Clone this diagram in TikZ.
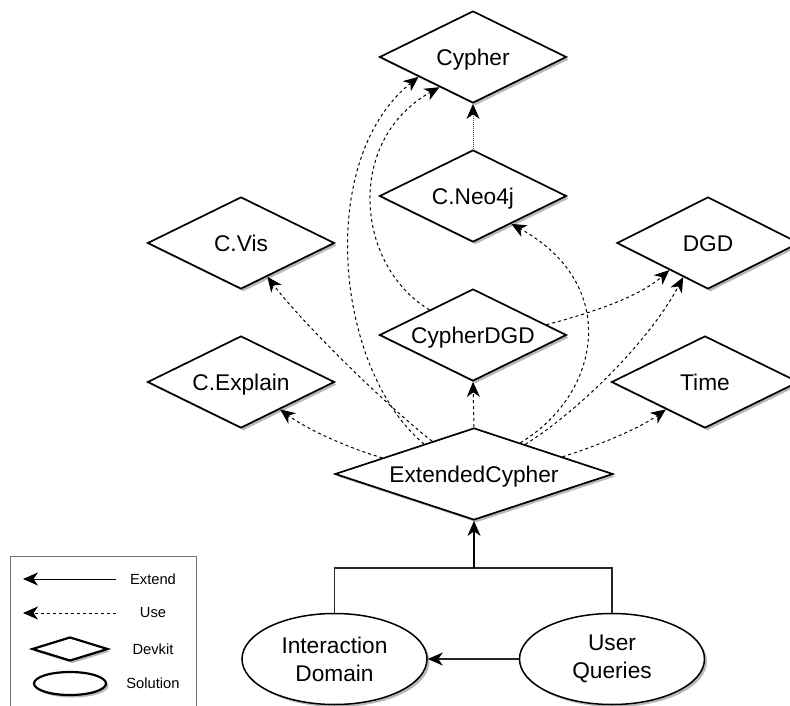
\documentclass[tikz,border=0pt]{standalone}
\usepackage{fontspec}
\setmainfont{Liberation Sans}
\usetikzlibrary{shapes.geometric,arrows.meta,shadows}

\begin{document}
\begin{tikzpicture}[x=1pt,y=-1pt,
  softshadow/.style={drop shadow={shadow xshift=2.5pt,shadow yshift=-2.5pt,opacity=0.28,fill=black}},
  kit/.style={diamond,draw=black,line width=1.7pt,fill=white,aspect=3,inner sep=0pt,
    minimum width=187pt,minimum height=92pt,
    font=\fontsize{22.7}{27}\selectfont,text height=16.5pt,text depth=0pt,softshadow},
  sol/.style={ellipse,draw=black,line width=1.5pt,fill=white,inner sep=0pt,
    minimum width=185pt,minimum height=91pt,align=center,
    font=\fontsize{22.7}{28}\selectfont,softshadow},
  tip/.style={-{Stealth[length=15pt,width=13pt,inset=4.5pt,color=black]}},
  usearrow/.style={draw=black,line width=1pt,dash pattern=on 3pt off 3pt,tip},
  extend/.style={draw=black,line width=1.5pt,tip},
  legtext/.style={font=\fontsize{14.7}{17}\selectfont,inner sep=0pt}
]
\useasboundingbox (0,0) rectangle (790,706);
\clip (0,0) rectangle (790,706);

% devkit diamonds
\node[kit] (cy) at (473,57) {Cypher};
\node[kit] (cn) at (473,196) {C.Neo4j};
\node[kit] (cv) at (241,243) {C.Vis};
\node[kit] (ce) at (241,382) {C.Explain};
\node[kit] (cd) at (473,335) {CypherDGD};
\node[kit,minimum width=182pt] (dg) at (708,243) {DGD};
\node[kit] (tm) at (705,382) {Time};
\node[kit,minimum width=278pt] (ec) at (474,474) {ExtendedCypher};

% solutions
\node[sol] (id) at (334.5,659) {Interaction\\Domain};
\node[sol] (uq) at (612,659) {User\\Queries};

% use relations
\draw[usearrow] (ec.149) .. controls (335,370) and (315,160) .. (cy.200);
\draw[usearrow] (cd.150) .. controls (355,265) and (345,140) .. (cy.222);
\draw[usearrow] (ec.142) .. controls (380,400) and (300,320) .. (cv.308);
\draw[usearrow] (ec.170) .. controls (345,447) and (305,428) .. (ce.325);
\draw[usearrow] (ec.north) -- (cd.south);
\draw[usearrow] (ec.34) .. controls (600,395) and (622,285) .. (cn.324);
\draw[usearrow] (ec.30) .. controls (580,410) and (650,340) .. (dg.234);
\draw[usearrow] (cd.8) .. controls (595,312) and (640,296) .. (dg.215);
\draw[usearrow] (ec.11) .. controls (600,445) and (640,428) .. (tm.215);
\draw[draw=black!70,line width=1pt,dash pattern=on 1pt off 1pt,tip] (cn.north) -- (cy.south);

% extend relations
\coordinate (jn) at (474,568);
\draw[black!85,line width=1.3pt] (id.north) |- (jn) -| (uq.north);
\draw[extend] (jn) -- (ec.south);
\draw[draw=black!85,line width=1.3pt,tip] (uq.west) -- (id.east);

% legend
\node[draw=black!55,line width=0.9pt,anchor=north west,inner sep=0pt,
      minimum width=186pt,minimum height=170pt] (lg) at (10,556) {};
\coordinate (ea) at (116,579);
\coordinate (eb) at (23,579);
\draw[draw=black,line width=1pt,tip] (ea) -- (eb);
\node[legtext] (lt1) at (153,579) {Extend};
\coordinate (ua) at (116,613);
\coordinate (ub) at (23,613);
\draw[usearrow] (ua) -- (ub);
\node[legtext] (lt2) at (153,613) {Use};
\node[diamond,draw=black,line width=2.2pt,fill=white,inner sep=0pt,aspect=3,
      minimum width=76pt,minimum height=24pt,softshadow] (ld) at (70,649) {};
\node[legtext] (lt3) at (153,649) {Devkit};
\node[ellipse,draw=black,line width=2.2pt,fill=white,inner sep=0pt,
      minimum width=72pt,minimum height=23pt,softshadow] (le) at (70,683.5) {};
\node[legtext] (lt4) at (153,683.5) {Solution};
\end{tikzpicture}
\end{document}
